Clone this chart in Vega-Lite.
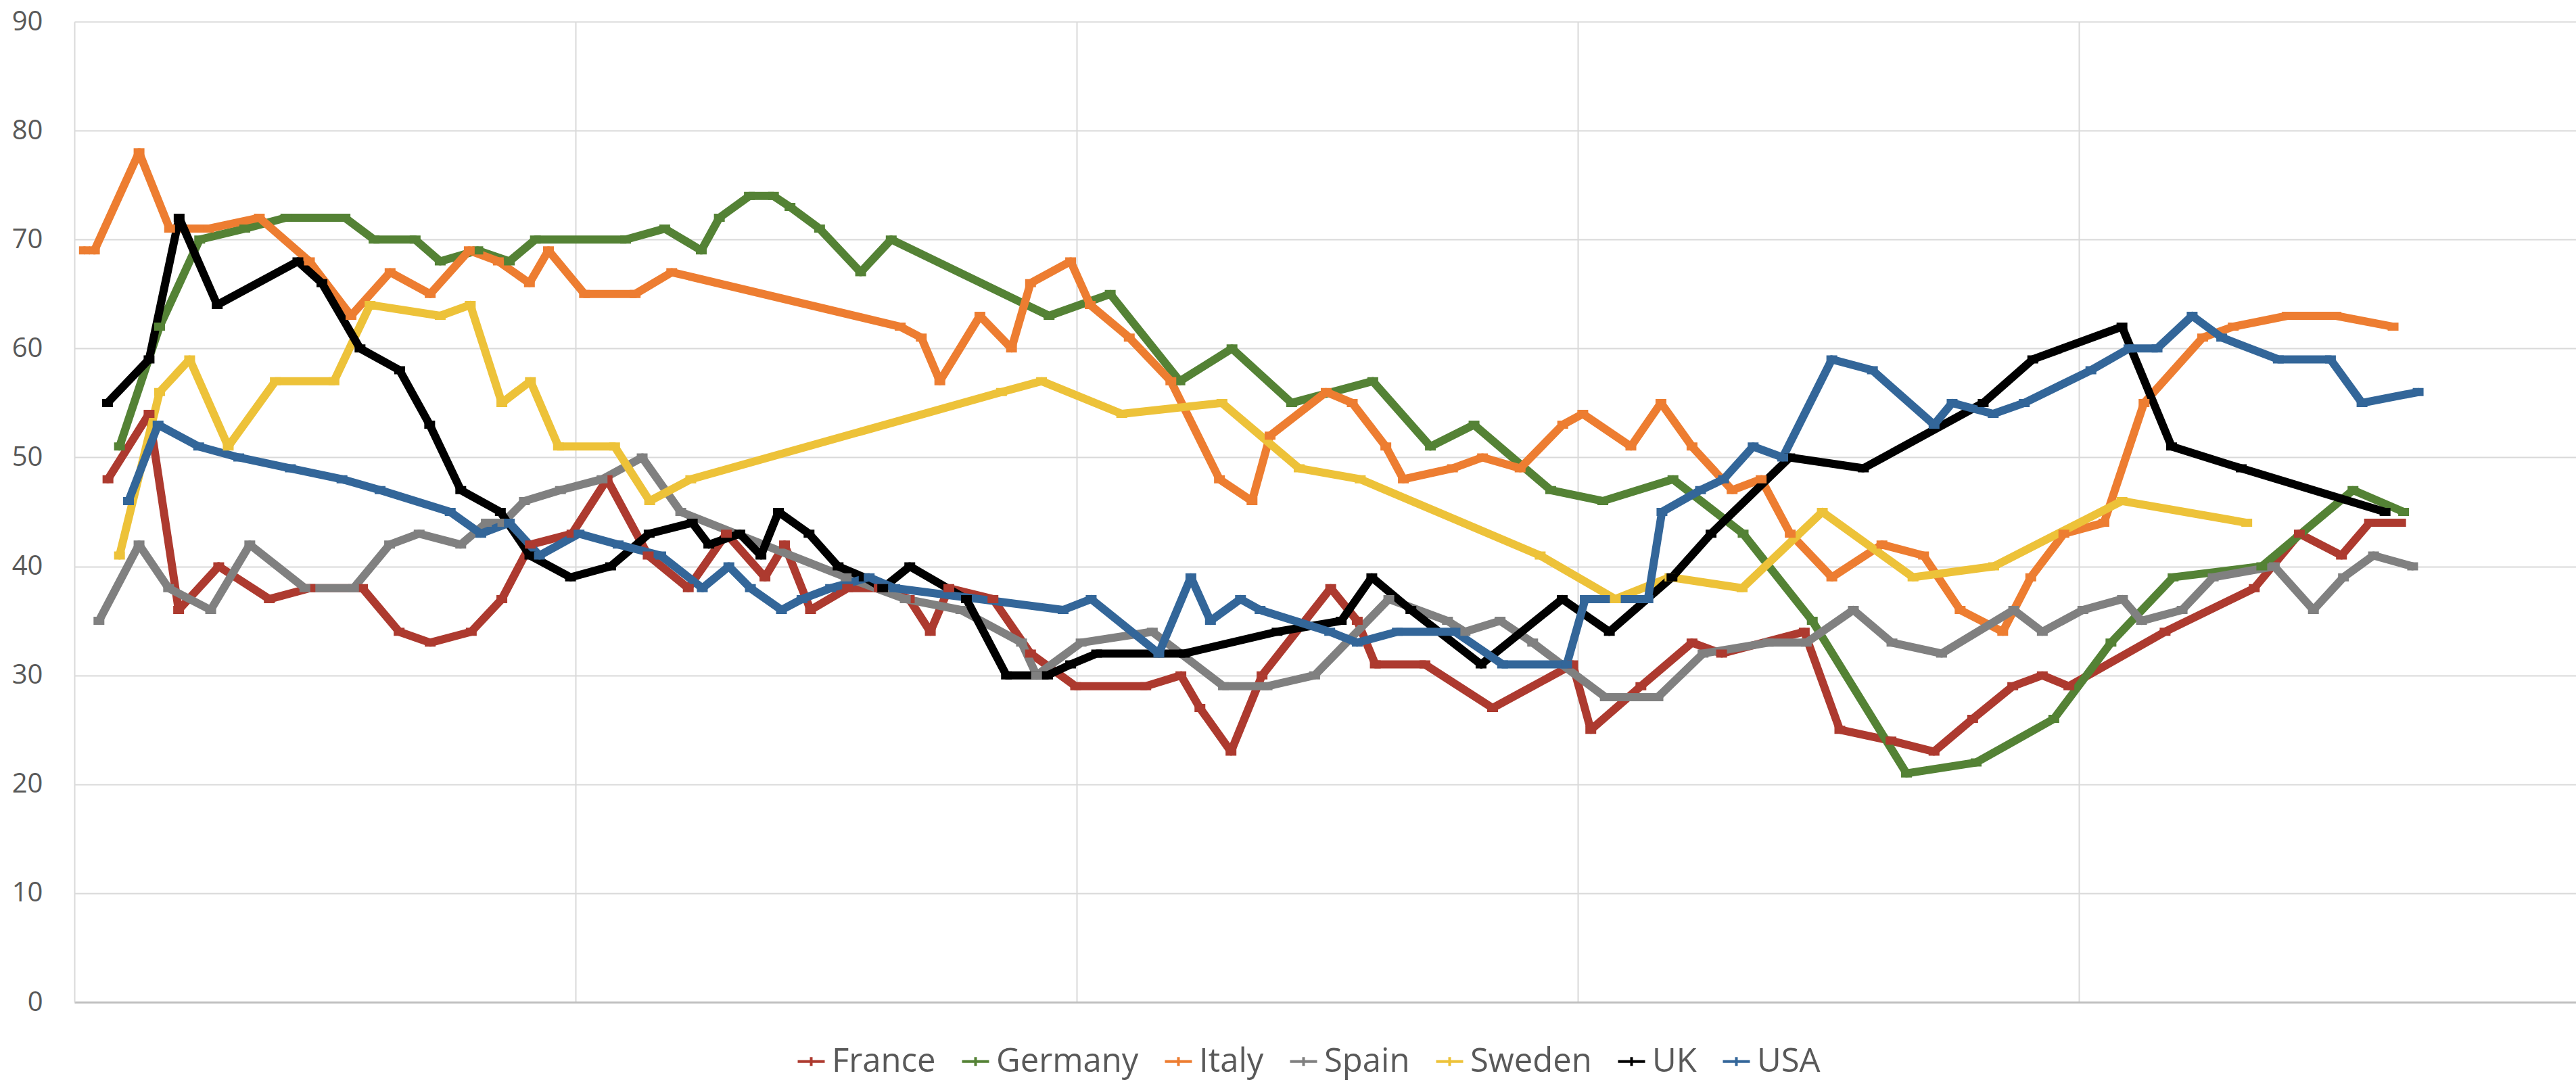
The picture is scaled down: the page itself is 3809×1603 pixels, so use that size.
{
 "$schema": "https://vega.github.io/schema/vega-lite/v6.json",
 "width": 3699,
 "height": 1450,
 "autosize": {"type": "none"},
 "padding": {"left": 110, "top": 32, "right": 0, "bottom": 121},
 "background": "white",
 "config": {"view": {"stroke": null}, "font": "Open Sans"},
 "data": {"values": [
{"country":"France","t":6.7,"pct":48},{"country":"France","t":14.9,"pct":54},{"country":"France","t":20.8,"pct":36},{"country":"France","t":28.8,"pct":40},{"country":"France","t":38.9,"pct":37},{"country":"France","t":47,"pct":38},{"country":"France","t":57.5,"pct":38},{"country":"France","t":64.8,"pct":34},{"country":"France","t":71,"pct":33},{"country":"France","t":79.2,"pct":34},{"country":"France","t":85.3,"pct":37},{"country":"France","t":91,"pct":42},{"country":"France","t":99.3,"pct":43},{"country":"France","t":106.3,"pct":48},{"country":"France","t":114.5,"pct":41},{"country":"France","t":122.5,"pct":38},{"country":"France","t":130.1,"pct":43},{"country":"France","t":137.8,"pct":39},{"country":"France","t":141.7,"pct":42},{"country":"France","t":146.9,"pct":36},{"country":"France","t":154.3,"pct":38},{"country":"France","t":160.6,"pct":38},{"country":"France","t":166.6,"pct":37},{"country":"France","t":170.8,"pct":34},{"country":"France","t":174.5,"pct":38},{"country":"France","t":183.3,"pct":37},{"country":"France","t":190.8,"pct":32},{"country":"France","t":199.8,"pct":29},{"country":"France","t":213.8,"pct":29},{"country":"France","t":220.8,"pct":30},{"country":"France","t":224.6,"pct":27},{"country":"France","t":230.8,"pct":23},{"country":"France","t":237,"pct":30},{"country":"France","t":250.7,"pct":38},{"country":"France","t":256,"pct":35},{"country":"France","t":259.6,"pct":31},{"country":"France","t":269.5,"pct":31},{"country":"France","t":283,"pct":27},{"country":"France","t":299,"pct":31},{"country":"France","t":302.6,"pct":25},{"country":"France","t":312.6,"pct":29},{"country":"France","t":322.8,"pct":33},{"country":"France","t":328.7,"pct":32},{"country":"France","t":345.2,"pct":34},{"country":"France","t":352.3,"pct":25},{"country":"France","t":362.5,"pct":24},{"country":"France","t":371.1,"pct":23},{"country":"France","t":378.8,"pct":26},{"country":"France","t":386.8,"pct":29},{"country":"France","t":392.7,"pct":30},{"country":"France","t":398,"pct":29},{"country":"France","t":417.2,"pct":34},{"country":"France","t":435,"pct":38},{"country":"France","t":444,"pct":43},{"country":"France","t":452.4,"pct":41},{"country":"France","t":458,"pct":44},{"country":"France","t":464.2,"pct":44},
{"country":"Germany","t":9,"pct":51},{"country":"Germany","t":17,"pct":62},{"country":"Germany","t":25,"pct":70},{"country":"Germany","t":34,"pct":71},{"country":"Germany","t":42.2,"pct":72},{"country":"Germany","t":54,"pct":72},{"country":"Germany","t":59.8,"pct":70},{"country":"Germany","t":68,"pct":70},{"country":"Germany","t":73,"pct":68},{"country":"Germany","t":80.5,"pct":69},{"country":"Germany","t":86.8,"pct":68},{"country":"Germany","t":92,"pct":70},{"country":"Germany","t":110,"pct":70},{"country":"Germany","t":117.8,"pct":71},{"country":"Germany","t":125.1,"pct":69},{"country":"Germany","t":128.7,"pct":72},{"country":"Germany","t":134.7,"pct":74},{"country":"Germany","t":139.5,"pct":74},{"country":"Germany","t":142.8,"pct":73},{"country":"Germany","t":148.7,"pct":71},{"country":"Germany","t":156.9,"pct":67},{"country":"Germany","t":163,"pct":70},{"country":"Germany","t":194.5,"pct":63},{"country":"Germany","t":206.7,"pct":65},{"country":"Germany","t":220.6,"pct":57},{"country":"Germany","t":231,"pct":60},{"country":"Germany","t":242.9,"pct":55},{"country":"Germany","t":259.1,"pct":57},{"country":"Germany","t":270.6,"pct":51},{"country":"Germany","t":279.3,"pct":53},{"country":"Germany","t":294.6,"pct":47},{"country":"Germany","t":305,"pct":46},{"country":"Germany","t":319,"pct":48},{"country":"Germany","t":333,"pct":43},{"country":"Germany","t":346.8,"pct":35},{"country":"Germany","t":365.6,"pct":21},{"country":"Germany","t":379.5,"pct":22},{"country":"Germany","t":395,"pct":26},{"country":"Germany","t":406.4,"pct":33},{"country":"Germany","t":418.8,"pct":39},{"country":"Germany","t":436.5,"pct":40},{"country":"Germany","t":454.7,"pct":47},{"country":"Germany","t":464.8,"pct":45},
{"country":"Italy","t":2,"pct":69},{"country":"Italy","t":3,"pct":null},{"country":"Italy","t":4,"pct":69},{"country":"Italy","t":12.9,"pct":78},{"country":"Italy","t":19,"pct":71},{"country":"Italy","t":26.8,"pct":71},{"country":"Italy","t":36.9,"pct":72},{"country":"Italy","t":46.9,"pct":68},{"country":"Italy","t":55.2,"pct":63},{"country":"Italy","t":63,"pct":67},{"country":"Italy","t":71,"pct":65},{"country":"Italy","t":78.8,"pct":69},{"country":"Italy","t":84.6,"pct":68},{"country":"Italy","t":90.8,"pct":66},{"country":"Italy","t":94.6,"pct":69},{"country":"Italy","t":101.8,"pct":65},{"country":"Italy","t":111.9,"pct":65},{"country":"Italy","t":119.2,"pct":67},{"country":"Italy","t":164.8,"pct":62},{"country":"Italy","t":169,"pct":61},{"country":"Italy","t":172.7,"pct":57},{"country":"Italy","t":180.7,"pct":63},{"country":"Italy","t":187,"pct":60},{"country":"Italy","t":190.8,"pct":66},{"country":"Italy","t":198.8,"pct":68},{"country":"Italy","t":202.7,"pct":64},{"country":"Italy","t":210.5,"pct":61},{"country":"Italy","t":218.8,"pct":57},{"country":"Italy","t":228.5,"pct":48},{"country":"Italy","t":235,"pct":46},{"country":"Italy","t":238.6,"pct":52},{"country":"Italy","t":249.8,"pct":56},{"country":"Italy","t":255,"pct":55},{"country":"Italy","t":261.7,"pct":51},{"country":"Italy","t":265.2,"pct":48},{"country":"Italy","t":275,"pct":49},{"country":"Italy","t":281,"pct":50},{"country":"Italy","t":288.5,"pct":49},{"country":"Italy","t":297,"pct":53},{"country":"Italy","t":301,"pct":54},{"country":"Italy","t":310.6,"pct":51},{"country":"Italy","t":316.6,"pct":55},{"country":"Italy","t":322.8,"pct":51},{"country":"Italy","t":330.8,"pct":47},{"country":"Italy","t":336.6,"pct":48},{"country":"Italy","t":342.4,"pct":43},{"country":"Italy","t":350.7,"pct":39},{"country":"Italy","t":360.7,"pct":42},{"country":"Italy","t":369,"pct":41},{"country":"Italy","t":376.3,"pct":36},{"country":"Italy","t":384.8,"pct":34},{"country":"Italy","t":390.4,"pct":39},{"country":"Italy","t":397,"pct":43},{"country":"Italy","t":405,"pct":44},{"country":"Italy","t":413,"pct":55},{"country":"Italy","t":424.7,"pct":61},{"country":"Italy","t":430.8,"pct":62},{"country":"Italy","t":441.6,"pct":63},{"country":"Italy","t":451.3,"pct":63},{"country":"Italy","t":462.7,"pct":62},
{"country":"Spain","t":4.9,"pct":35},{"country":"Spain","t":12.9,"pct":42},{"country":"Spain","t":18.8,"pct":38},{"country":"Spain","t":27.2,"pct":36},{"country":"Spain","t":35,"pct":42},{"country":"Spain","t":46,"pct":38},{"country":"Spain","t":55.7,"pct":38},{"country":"Spain","t":62.9,"pct":42},{"country":"Spain","t":68.8,"pct":43},{"country":"Spain","t":77.1,"pct":42},{"country":"Spain","t":82.2,"pct":44},{"country":"Spain","t":85.5,"pct":44},{"country":"Spain","t":89.8,"pct":46},{"country":"Spain","t":97,"pct":47},{"country":"Spain","t":105.3,"pct":48},{"country":"Spain","t":113.3,"pct":50},{"country":"Spain","t":121,"pct":45},{"country":"Spain","t":154,"pct":39},{"country":"Spain","t":165.8,"pct":37},{"country":"Spain","t":176.9,"pct":36},{"country":"Spain","t":189,"pct":33},{"country":"Spain","t":192,"pct":30},{"country":"Spain","t":200.9,"pct":33},{"country":"Spain","t":215.1,"pct":34},{"country":"Spain","t":229.3,"pct":29},{"country":"Spain","t":238,"pct":29},{"country":"Spain","t":247.5,"pct":30},{"country":"Spain","t":262.3,"pct":37},{"country":"Spain","t":274,"pct":35},{"country":"Spain","t":277.5,"pct":34},{"country":"Spain","t":284.5,"pct":35},{"country":"Spain","t":291,"pct":33},{"country":"Spain","t":305.5,"pct":28},{"country":"Spain","t":316,"pct":28},{"country":"Spain","t":325,"pct":32},{"country":"Spain","t":338,"pct":33},{"country":"Spain","t":345.6,"pct":33},{"country":"Spain","t":355,"pct":36},{"country":"Spain","t":362.7,"pct":33},{"country":"Spain","t":372.6,"pct":32},{"country":"Spain","t":387,"pct":36},{"country":"Spain","t":392.7,"pct":34},{"country":"Spain","t":400.8,"pct":36},{"country":"Spain","t":408.7,"pct":37},{"country":"Spain","t":412.5,"pct":35},{"country":"Spain","t":420.6,"pct":36},{"country":"Spain","t":426.8,"pct":39},{"country":"Spain","t":439,"pct":40},{"country":"Spain","t":446.8,"pct":36},{"country":"Spain","t":452.8,"pct":39},{"country":"Spain","t":458.8,"pct":41},{"country":"Spain","t":466.6,"pct":40},
{"country":"Sweden","t":9,"pct":41},{"country":"Sweden","t":17,"pct":56},{"country":"Sweden","t":23,"pct":59},{"country":"Sweden","t":30.7,"pct":51},{"country":"Sweden","t":40.1,"pct":57},{"country":"Sweden","t":51.8,"pct":57},{"country":"Sweden","t":59,"pct":64},{"country":"Sweden","t":73,"pct":63},{"country":"Sweden","t":79,"pct":64},{"country":"Sweden","t":85.3,"pct":55},{"country":"Sweden","t":91,"pct":57},{"country":"Sweden","t":96.6,"pct":51},{"country":"Sweden","t":107.8,"pct":51},{"country":"Sweden","t":114.8,"pct":46},{"country":"Sweden","t":123,"pct":48},{"country":"Sweden","t":185,"pct":56},{"country":"Sweden","t":193,"pct":57},{"country":"Sweden","t":209,"pct":54},{"country":"Sweden","t":229,"pct":55},{"country":"Sweden","t":244.4,"pct":49},{"country":"Sweden","t":256.6,"pct":48},{"country":"Sweden","t":292.5,"pct":41},{"country":"Sweden","t":307.5,"pct":37},{"country":"Sweden","t":318.4,"pct":39},{"country":"Sweden","t":332.8,"pct":38},{"country":"Sweden","t":348.8,"pct":45},{"country":"Sweden","t":366.9,"pct":39},{"country":"Sweden","t":383,"pct":40},{"country":"Sweden","t":408.6,"pct":46},{"country":"Sweden","t":433.5,"pct":44},
{"country":"UK","t":6.6,"pct":55},{"country":"UK","t":14.9,"pct":59},{"country":"UK","t":20.9,"pct":72},{"country":"UK","t":28.5,"pct":64},{"country":"UK","t":44.6,"pct":68},{"country":"UK","t":49.4,"pct":66},{"country":"UK","t":57,"pct":60},{"country":"UK","t":64.9,"pct":58},{"country":"UK","t":70.9,"pct":53},{"country":"UK","t":77.1,"pct":47},{"country":"UK","t":85,"pct":45},{"country":"UK","t":90.9,"pct":41},{"country":"UK","t":99,"pct":39},{"country":"UK","t":107,"pct":40},{"country":"UK","t":114.7,"pct":43},{"country":"UK","t":123.3,"pct":44},{"country":"UK","t":126.6,"pct":42},{"country":"UK","t":132.8,"pct":43},{"country":"UK","t":137,"pct":41},{"country":"UK","t":140.5,"pct":45},{"country":"UK","t":146.6,"pct":43},{"country":"UK","t":152.4,"pct":40},{"country":"UK","t":157.6,"pct":39},{"country":"UK","t":161.3,"pct":38},{"country":"UK","t":166.7,"pct":40},{"country":"UK","t":178,"pct":37},{"country":"UK","t":186,"pct":30},{"country":"UK","t":194.2,"pct":30},{"country":"UK","t":198.8,"pct":31},{"country":"UK","t":204,"pct":32},{"country":"UK","t":221.5,"pct":32},{"country":"UK","t":240,"pct":34},{"country":"UK","t":252.8,"pct":35},{"country":"UK","t":258.9,"pct":39},{"country":"UK","t":266.7,"pct":36},{"country":"UK","t":280.7,"pct":31},{"country":"UK","t":296.9,"pct":37},{"country":"UK","t":306.3,"pct":34},{"country":"UK","t":318.8,"pct":39},{"country":"UK","t":326.6,"pct":43},{"country":"UK","t":342.3,"pct":50},{"country":"UK","t":357,"pct":49},{"country":"UK","t":380.9,"pct":55},{"country":"UK","t":390.8,"pct":59},{"country":"UK","t":408.6,"pct":62},{"country":"UK","t":418.5,"pct":51},{"country":"UK","t":432.4,"pct":49},{"country":"UK","t":461.1,"pct":45},
{"country":"USA","t":10.8,"pct":46},{"country":"USA","t":16.7,"pct":53},{"country":"USA","t":24.8,"pct":51},{"country":"USA","t":32.8,"pct":50},{"country":"USA","t":43.1,"pct":49},{"country":"USA","t":53.4,"pct":48},{"country":"USA","t":61,"pct":47},{"country":"USA","t":75,"pct":45},{"country":"USA","t":81.1,"pct":43},{"country":"USA","t":86.8,"pct":44},{"country":"USA","t":92.8,"pct":41},{"country":"USA","t":100.7,"pct":43},{"country":"USA","t":108.5,"pct":42},{"country":"USA","t":117,"pct":41},{"country":"USA","t":125.3,"pct":38},{"country":"USA","t":130.6,"pct":40},{"country":"USA","t":134.9,"pct":38},{"country":"USA","t":141.1,"pct":36},{"country":"USA","t":145.2,"pct":37},{"country":"USA","t":150.9,"pct":38},{"country":"USA","t":158.6,"pct":39},{"country":"USA","t":163.7,"pct":38},{"country":"USA","t":197.3,"pct":36},{"country":"USA","t":202.9,"pct":37},{"country":"USA","t":216.4,"pct":32},{"country":"USA","t":222.8,"pct":39},{"country":"USA","t":226.7,"pct":35},{"country":"USA","t":232.7,"pct":37},{"country":"USA","t":236.6,"pct":36},{"country":"USA","t":250.5,"pct":34},{"country":"USA","t":256,"pct":33},{"country":"USA","t":264,"pct":34},{"country":"USA","t":275.5,"pct":34},{"country":"USA","t":285,"pct":31},{"country":"USA","t":297.8,"pct":31},{"country":"USA","t":301.5,"pct":37},{"country":"USA","t":314,"pct":37},{"country":"USA","t":316.8,"pct":45},{"country":"USA","t":324.5,"pct":47},{"country":"USA","t":329.1,"pct":48},{"country":"USA","t":335,"pct":51},{"country":"USA","t":340.9,"pct":50},{"country":"USA","t":350.7,"pct":59},{"country":"USA","t":358.8,"pct":58},{"country":"USA","t":371.1,"pct":53},{"country":"USA","t":374.7,"pct":55},{"country":"USA","t":382.9,"pct":54},{"country":"USA","t":389.1,"pct":55},{"country":"USA","t":402.4,"pct":58},{"country":"USA","t":410,"pct":60},{"country":"USA","t":415.6,"pct":60},{"country":"USA","t":422.6,"pct":63},{"country":"USA","t":428.5,"pct":61},{"country":"USA","t":439.8,"pct":59},{"country":"USA","t":450.2,"pct":59},{"country":"USA","t":456.5,"pct":55},{"country":"USA","t":467.7,"pct":56}
 ]},
 "encoding": {
  "x": {"field": "t", "type": "quantitative",
        "scale": {"domain": [0, 499.2], "nice": false, "zero": false},
        "axis": {"values": [100, 200, 300, 400], "labels": false, "ticks": false, "title": null, "grid": true,
                 "gridColor": "#D9D9D9", "gridWidth": 2, "domainColor": "#BFBFBF", "domainWidth": 3}},
  "y": {"field": "pct", "type": "quantitative",
        "scale": {"domain": [0, 90], "nice": false},
        "axis": {"values": [0,10,20,30,40,50,60,70,80,90], "title": null, "ticks": false,
                 "labelFontSize": 40, "labelColor": "#595959", "labelPadding": 47, "labelFont": "Open Sans",
                 "gridColor": "#D9D9D9", "gridWidth": 2, "domainColor": "#D9D9D9", "domainWidth": 2}},
  "color": {"field": "country", "type": "nominal",
            "scale": {"domain": ["France","Germany","Italy","Spain","Sweden","UK","USA"],
                      "range": ["#AD3A2F","#548235","#ED7D31","#808080","#EDC239","#000000","#336699"]},
            "legend": {"orient": "none", "legendX": 1065, "legendY": 1513, "direction": "horizontal", "title": null,
                       "labelFontSize": 49, "labelColor": "#595959", "labelFont": "Open Sans", "labelLimit": 500,
                       "symbolType": "M-1,0H1M0,-0.33V0.33", "symbolSize": 1600, "symbolStrokeWidth": 4,
                       "labelOffset": 6, "columnPadding": 30}}
 },
 "layer": [
  {"mark": {"type": "line", "strokeWidth": 12, "strokeJoin": "round", "strokeCap": "round", "invalid": "break-paths-filter-domains"}},
  {"mark": {"type": "point", "shape": "M-1,0H1M0,-0.5V0.5", "size": 256, "strokeWidth": 12, "filled": false, "opacity": 1, "strokeCap": "butt"}}
 ]
}
